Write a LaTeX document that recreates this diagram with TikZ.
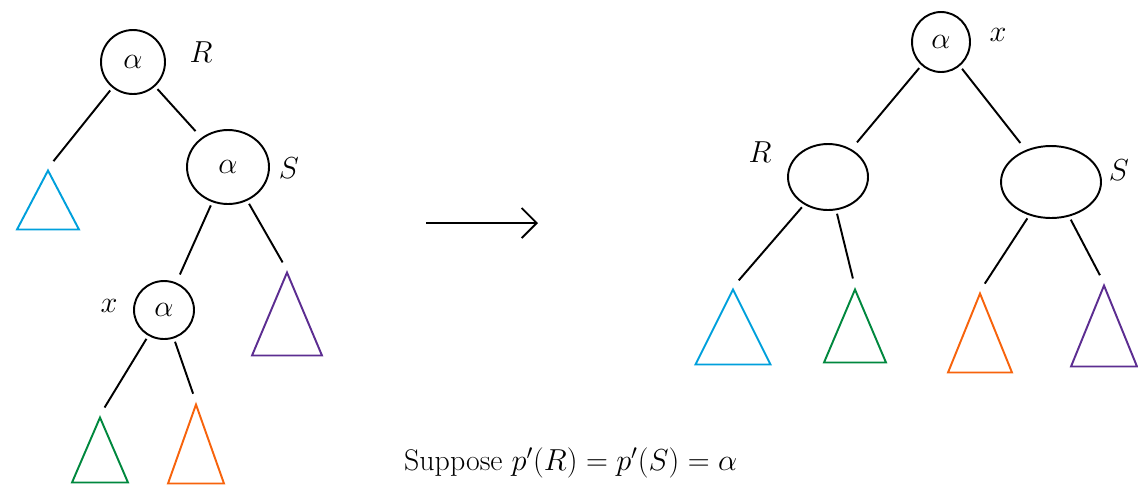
\documentclass[tikz,border=0pt]{standalone}
\usepackage{amsmath,amssymb}
\usepackage{xcolor}
\usepackage{tikz}
\usetikzlibrary{arrows.meta,positioning,shapes.geometric}
\definecolor{penblue}{RGB}{0,160,220}
\definecolor{pengreen}{RGB}{0,136,62}
\definecolor{penorange}{RGB}{247,99,12}
\definecolor{penpurple}{RGB}{92,45,145}

\begin{document}
\begin{tikzpicture}[
  x=0.02cm,y=-0.02cm,
  vertex/.style={draw,ellipse,line width=1.1pt,inner sep=0,
                 font=\fontsize{18}{20}\selectfont},
  subtree/.style={draw=#1,isosceles triangle,isosceles triangle stretches,
                  shape border rotate=90,anchor=apex,inner sep=0,line width=1.1pt},
  lbl/.style={font=\fontsize{18}{20}\selectfont},
  branch/.style={line width=1.1pt,shorten <=2pt,shorten >=5pt},
  flow/.style={-{Straight Barb[length=3mm]},line width=1.1pt}
]
\useasboundingbox (0,0) rectangle (1138,485);

% before the rotation
\node[vertex,minimum width=1.28cm,minimum height=1.28cm] (rootL) at (133,62) {$\alpha$};
\node[vertex,minimum width=1.64cm,minimum height=1.48cm] (sL) at (228,167) {$\alpha$};
\node[vertex,minimum width=1.2cm,minimum height=1.16cm] (xL) at (164,310) {$\alpha$};
\node[lbl] (rTagL) at (201,52) {$R$};
\node[lbl] (sTagL) at (289,168) {$S$};
\node[lbl] (xTagL) at (109,306) {$x$};

\node[subtree=penblue,minimum width=1.24cm,minimum height=1.18cm] (blueL) at (48,168) {};
\node[subtree=penpurple,minimum width=1.4cm,minimum height=1.66cm] (purpleL) at (287,270) {};
\node[subtree=pengreen,minimum width=1.12cm,minimum height=1.3cm] (greenL) at (100,415) {};
\node[subtree=penorange,minimum width=1.12cm,minimum height=1.58cm] (orangeL) at (196,402) {};

\draw[branch] (rootL) -- (blueL.apex);
\draw[branch] (rootL) -- (sL);
\draw[branch] (sL) -- (xL);
\draw[branch] (sL) -- (purpleL.apex);
\draw[branch] (xL) -- (greenL.apex);
\draw[branch] (xL) -- (orangeL.apex);

% rotation arrow
\coordinate (arrFrom) at (426,223);
\coordinate (arrTo) at (538,223);
\draw[flow] (arrFrom) -- (arrTo);

% after the rotation
\node[vertex,minimum width=1.16cm,minimum height=1.2cm] (rootR) at (941,42) {$\alpha$};
\node[vertex,minimum width=1.6cm,minimum height=1.32cm] (rR) at (828,177) {};
\node[vertex,minimum width=2cm,minimum height=1.44cm] (sR) at (1051,182) {};
\node[lbl] (xTagR) at (998,35) {$x$};
\node[lbl] (rTagR) at (760,152) {$R$};
\node[lbl] (sTagR) at (1119,170) {$S$};

\node[subtree=penblue,minimum width=1.5cm,minimum height=1.5cm] (blueR) at (733,287) {};
\node[subtree=pengreen,minimum width=1.24cm,minimum height=1.46cm] (greenR) at (855,287) {};
\node[subtree=penorange,minimum width=1.28cm,minimum height=1.58cm] (orangeR) at (980,291) {};
\node[subtree=penpurple,minimum width=1.32cm,minimum height=1.62cm] (purpleR) at (1104,283) {};

\draw[branch] (rootR) -- (rR);
\draw[branch] (rootR) -- (sR);
\draw[branch] (rR) -- (blueR.apex);
\draw[branch] (rR) -- (greenR.apex);
\draw[branch] (sR) -- (orangeR.apex);
\draw[branch] (sR) -- (purpleR.apex);

\node[anchor=south west,font=\fontsize{17}{20}\selectfont] (note) at (398,484)
  {Suppose $p'(R) = p'(S) = \alpha$};
\end{tikzpicture}
\end{document}
